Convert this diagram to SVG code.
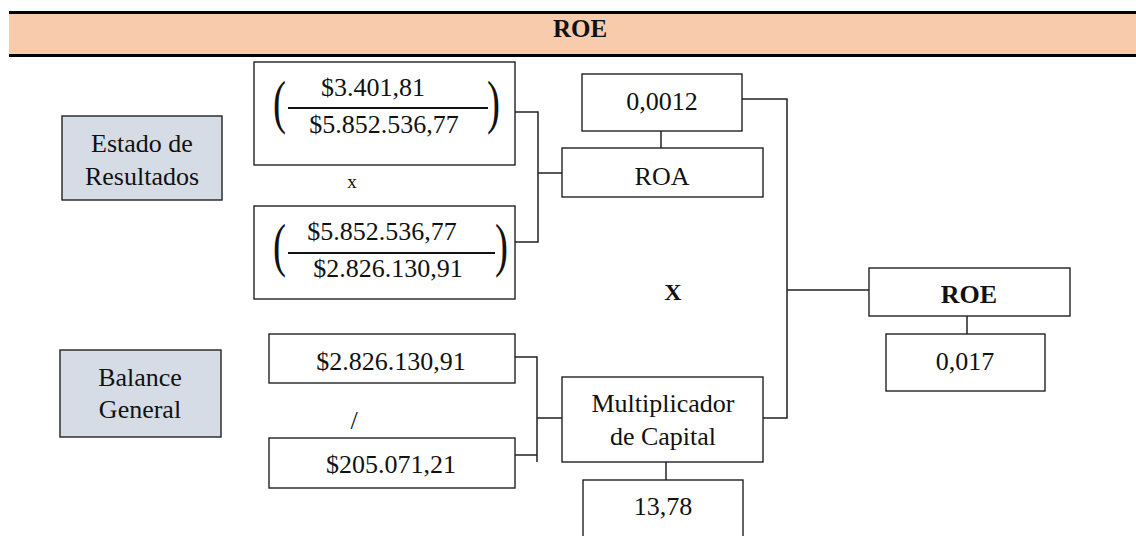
<svg xmlns="http://www.w3.org/2000/svg" width="1136" height="536" viewBox="0 0 1136 536">
  <style>
    text { font-family: "Liberation Serif", "DejaVu Serif", serif; }
    .t { font-size: 26px; fill: #111; text-anchor: middle; }
    .b { font-weight: bold; }
    .box { fill: #fff; stroke: #222; stroke-width: 1.4; }
    .src { fill: #D6DCE5; stroke: #222; stroke-width: 1.4; }
    .par { font-size: 39px; fill: #111; }
    .wire { fill: none; stroke: #222; stroke-width: 1.5; }
    .bar { stroke: #111; stroke-width: 2; }
  </style>

  <!-- title band -->
  <g id="header">
    <rect x="9" y="12" width="1127" height="44" fill="#F8CBAD"/>
    <line x1="9" y1="12.5" x2="1136" y2="12.5" stroke="#000" stroke-width="3"/>
    <line x1="9" y1="55.5" x2="1136" y2="55.5" stroke="#000" stroke-width="3"/>
    <text class="t b" x="580" y="37" style="font-size:25px">ROE</text>
  </g>

  <!-- connectors -->
  <g id="connectors">
    <path class="wire" d="M515,112 H538 V242 H515 M538,173 H562"/>
    <path class="wire" d="M661,131 V148"/>
    <path class="wire" d="M742,99 H787 V418 H763 M787,290 H869"/>
    <path class="wire" d="M515,357 H537 V462 M513,455 H537 M537,418 H562"/>
    <path class="wire" d="M666,462 V480"/>
    <path class="wire" d="M967,316 V334"/>
  </g>

  <!-- source statements -->
  <g id="estado-resultados">
    <rect class="src" x="62" y="116" width="160" height="84"/>
    <text class="t" x="142" y="152">Estado de</text>
    <text class="t" x="142" y="185">Resultados</text>
  </g>
  <g id="balance-general">
    <rect class="src" x="60" y="350" width="161" height="87"/>
    <text class="t" x="140" y="386">Balance</text>
    <text class="t" x="140" y="418">General</text>
  </g>

  <!-- net profit margin fraction; tall brackets are stretched vertically -->
  <g id="fraccion-margen">
    <rect class="box" x="254" y="62" width="261" height="103"/>
    <text class="par" transform="translate(273,122) scale(1,1.5)">(</text>
    <text class="par" transform="translate(487,122) scale(1,1.5)">)</text>
    <line class="bar" x1="288" y1="108" x2="488" y2="108"/>
    <text class="t" x="373" y="96">$3.401,81</text>
    <text class="t" x="384" y="133">$5.852.536,77</text>
  </g>

  <text class="t" x="352" y="188" style="font-size:19px">x</text>

  <!-- asset turnover fraction -->
  <g id="fraccion-rotacion">
    <rect class="box" x="254" y="206" width="261" height="93"/>
    <text class="par" transform="translate(273,265) scale(1,1.5)">(</text>
    <text class="par" transform="translate(495,265) scale(1,1.5)">)</text>
    <line class="bar" x1="288" y1="253" x2="495" y2="253"/>
    <text class="t" x="382" y="240">$5.852.536,77</text>
    <text class="t" x="388" y="277">$2.826.130,91</text>
  </g>

  <!-- ROA -->
  <g id="roa-valor">
    <rect class="box" x="582" y="74" width="160" height="57"/>
    <text class="t" x="662" y="110">0,0012</text>
  </g>
  <g id="roa">
    <rect class="box" x="562" y="148" width="201" height="49"/>
    <text class="t" x="662" y="185">ROA</text>
  </g>

  <text class="t b" x="673" y="300" style="font-size:24px">X</text>

  <!-- equity multiplier inputs -->
  <g id="activo-total">
    <rect class="box" x="269" y="334" width="246" height="49"/>
    <text class="t" x="391" y="370">$2.826.130,91</text>
  </g>
  <text class="t" x="354" y="429">/</text>
  <g id="patrimonio">
    <rect class="box" x="269" y="438" width="246" height="50"/>
    <text class="t" x="391" y="473">$205.071,21</text>
  </g>

  <!-- equity multiplier -->
  <g id="multiplicador">
    <rect class="box" x="562" y="377" width="201" height="85"/>
    <text class="t" x="663" y="412">Multiplicador</text>
    <text class="t" x="663" y="445">de Capital</text>
  </g>
  <g id="multiplicador-valor">
    <rect class="box" x="583" y="480" width="160" height="70"/>
    <text class="t" x="663" y="515">13,78</text>
  </g>

  <!-- ROE result -->
  <g id="roe">
    <rect class="box" x="869" y="268" width="201" height="48"/>
    <text class="t b" x="969" y="303">ROE</text>
  </g>
  <g id="roe-valor">
    <rect class="box" x="886" y="334" width="159" height="57"/>
    <text class="t" x="965" y="370">0,017</text>
  </g>
</svg>
